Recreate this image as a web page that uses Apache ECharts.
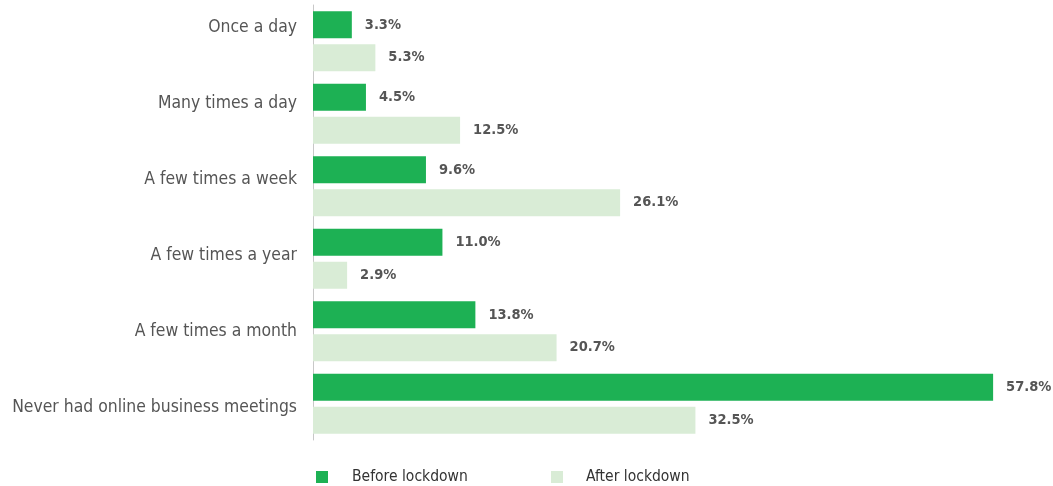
<!DOCTYPE html>
<html><head><meta charset="utf-8">
<script src="https://cdn.jsdelivr.net/npm/echarts@6/dist/echarts.min.js"></script>
<style>html,body{margin:0;padding:0;background:#fff}#c{width:1053px;height:486px}</style>
</head><body><div id="c"></div>
<script>
const categories = ["Once a day", "Many times a day", "A few times a week", "A few times a year", "A few times a month", "Never had online business meetings"];
const beforeLockdown = [3.3, 4.5, 9.6, 11.0, 13.8, 57.8];
const afterLockdown = [5.3, 12.5, 26.1, 2.9, 20.7, 32.5];
const seriesNames = ["Before lockdown", "After lockdown"];

const FONT = '"DejaVu Sans Condensed", "Roboto", sans-serif';
const chart = echarts.init(document.getElementById('c'));
const label = {
  show: true, position: 'right', distance: 13,
  color: '#555', fontSize: 14.5, fontWeight: 'bold', fontFamily: FONT,
  formatter: p => p.value.toFixed(1) + '%'
};
chart.setOption({
  animation: false,
  legend: [
    {data: [seriesNames[0]], left: 316, top: 469, padding: 0, itemWidth: 12, itemHeight: 12, icon: 'rect',
     textStyle: {color: '#333', fontSize: 15.5, fontFamily: FONT, padding: [0, 0, 0, 19]}},
    {data: [seriesNames[1]], left: 551, top: 469, padding: 0, itemWidth: 12, itemHeight: 12, icon: 'rect',
     textStyle: {color: '#333', fontSize: 15.5, fontFamily: FONT, padding: [0, 0, 0, 18]}}
  ],
  grid: [
    {left: 313, top: 5, width: 706, height: 435, containLabel: false, outerBoundsMode: 'none'},
    {left: 313, top: -11, width: 706, height: 456, containLabel: false, outerBoundsMode: 'none'}
  ],
  xAxis: [
    {type: 'value', min: 0, max: 60, show: false, gridIndex: 0},
    {type: 'value', min: 0, max: 60, show: false, gridIndex: 1}
  ],
  yAxis: [
    {
      type: 'category', data: categories, inverse: true, gridIndex: 0,
      axisLine: {lineStyle: {color: '#c8c8c8', width: 1}},
      axisTick: {show: false},
      axisLabel: {show: false}
    },
    {
      type: 'category', data: categories, inverse: true, gridIndex: 1,
      axisLine: {show: false},
      axisTick: {show: false},
      axisLabel: {color: '#555', fontSize: 17.4, fontFamily: FONT, margin: 16}
    }
  ],
  series: [
    {name: seriesNames[0], type: 'bar', data: beforeLockdown, barWidth: 27, barGap: '22%',
     itemStyle: {color: '#1db154'}, label: label},
    {name: seriesNames[1], type: 'bar', data: afterLockdown, barWidth: 27, barGap: '22%',
     itemStyle: {color: '#d9ecd6'}, label: label}
  ]
});
</script></body></html>
